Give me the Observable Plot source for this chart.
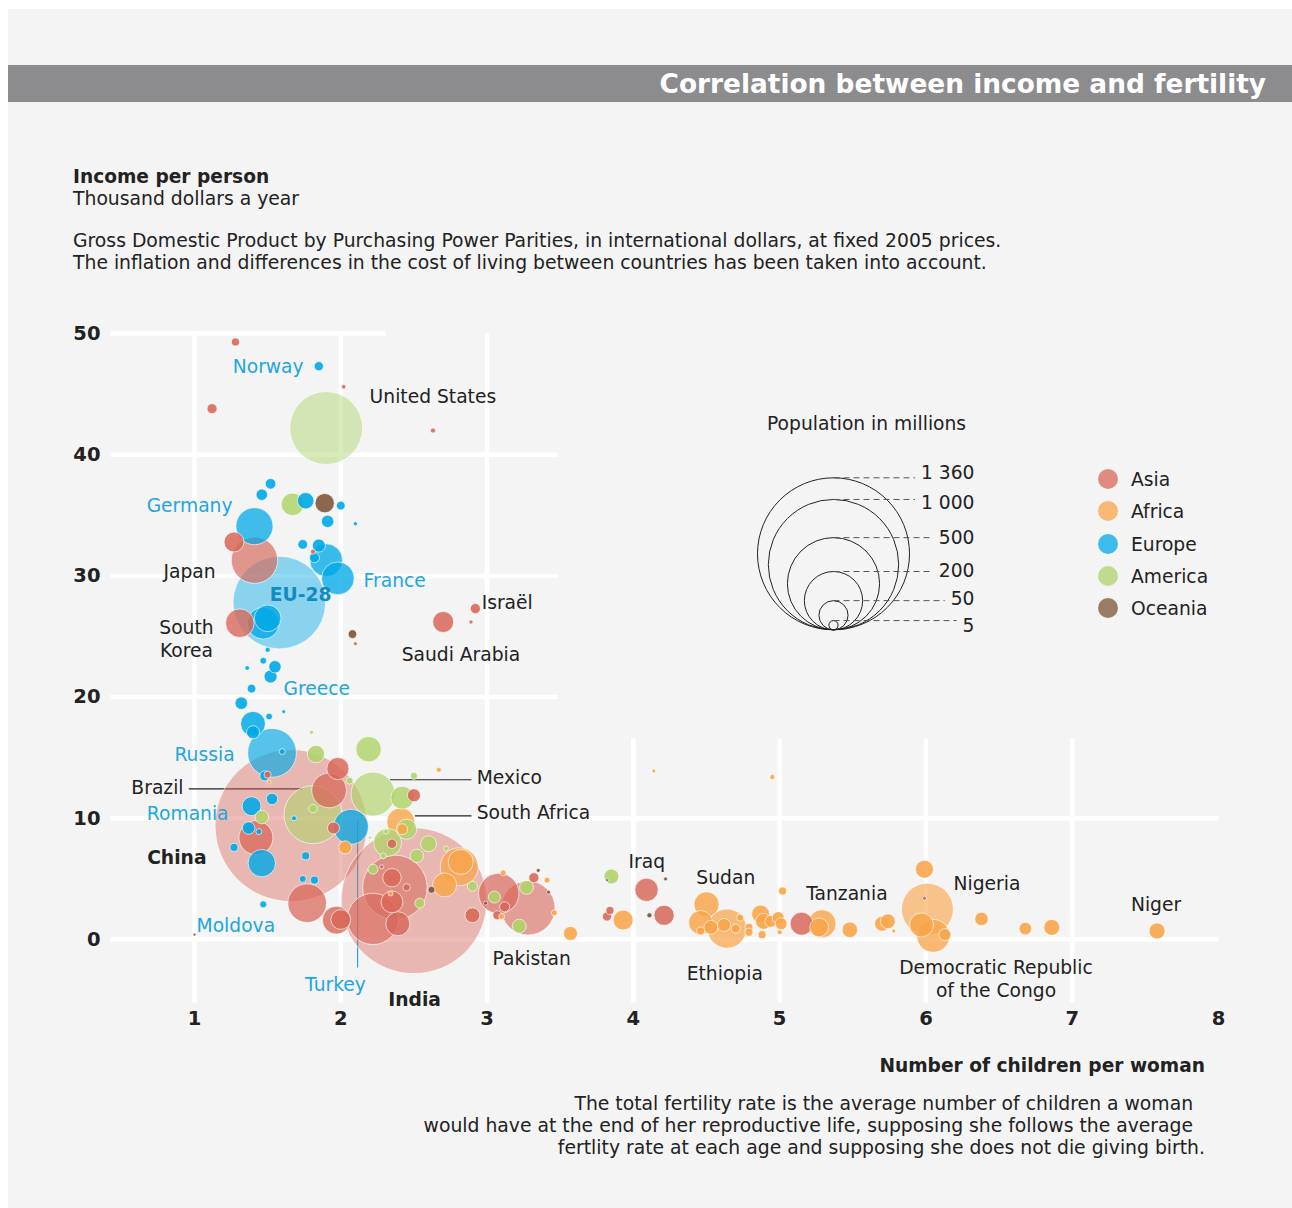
<!DOCTYPE html>
<html><head><meta charset="utf-8">
<script src="https://cdn.jsdelivr.net/npm/d3@7"></script>
<script src="https://cdn.jsdelivr.net/npm/@observablehq/plot@0.6"></script>
<style>
body{margin:0;background:#fff;font-family:"DejaVu Sans",Verdana,sans-serif;color:#222;}
#page{position:relative;width:1292px;height:1208px;overflow:hidden;}
#panel{position:absolute;left:8px;top:9px;width:1284px;height:1199px;background:#f4f4f4;}
#bar{position:absolute;left:8px;top:65px;width:1284px;height:37px;background:#8c8c8e;}
#title{position:absolute;right:26px;top:65px;line-height:37px;font-size:26.4px;font-weight:bold;color:#fff;white-space:nowrap;}
.t{position:absolute;font-size:18.8px;line-height:22px;white-space:pre;}
.b{font-weight:bold;}
#main{position:absolute;left:0;top:300px;}
#sizeLeg{position:absolute;left:740px;top:440px;}
.sw{position:absolute;width:20px;height:20px;border-radius:50%;}
</style></head>
<body><div id="page">
<div id="panel"></div>
<div id="bar"></div>
<div id="title">Correlation between income and fertility</div>
<div class="t b" style="left:73px;top:166px;font-size:18.6px;">Income per person</div>
<div class="t" style="left:73px;top:188px;">Thousand dollars a year</div>
<div class="t" style="left:73px;top:230px;">Gross Domestic Product by Purchasing Power Parities, in international dollars, at fixed 2005 prices.
The inflation and differences in the cost of living between countries has been taken into account.</div>
<div class="t" style="left:767px;top:413px;font-size:18.7px;">Population in millions</div>
<div id="colLeg"></div>
<div class="t b" style="right:87px;top:1055px;font-size:18.6px;">Number of children per woman</div>
<div class="t" style="right:87px;top:1093px;text-align:right;">The total fertility rate is the average number of children a woman  
would have at the end of her reproductive life, supposing she follows the average  
fertlity rate at each age and supposing she does not die giving birth.</div>
<div id="main"></div>
<div id="sizeLeg"></div>
</div>
<script>
// ---------- data: [children per woman, income (k$), population (millions)] ----------
const asia = [
[1.28,49.3,3.8],[2.02,45.6,1.2],[1.12,43.8,5.9],[2.63,42.0,1.5],[1.27,32.8,23.5],[1.41,31.3,127],
[1.81,32.0,1.5],[1.31,26.1,48],[2.10,24.4,0.9],[2.70,26.2,26],[2.92,27.3,6],[2.89,26.2,1],
[1.98,14.1,29],[1.92,12.3,71],[2.50,11.9,10],[1.95,9.2,8.5],[1.42,8.4,68],[1.66,9.4,1360],
[2.35,7.9,5.2],[1.77,3.0,88],[1.97,1.6,46],[2.00,1.65,23],[2.50,3.2,1250],[2.37,4.3,245],
[2.35,5.1,20],[2.35,3.1,28],[2.45,4.3,3.2],[2.22,1.7,155],[2.39,1.3,34],[2.28,6.0,1],
[2.90,2.0,13],[3.08,3.8,96],[3.12,2.7,6],[3.07,2.0,4.8],[3.28,2.6,172],[3.32,5.1,6],
[3.84,2.4,3.8],[3.82,1.9,4.8],[4.09,4.1,32],[4.21,2.0,24],[5.15,1.3,31],[5.99,3.4,1],[1.50,13.6,3]
];
const europe = [
[1.85,47.3,5],[1.52,37.6,6.6],[1.46,36.7,7.7],[1.76,36.2,16],[2.00,35.8,4.5],[1.91,34.5,9],
[2.10,34.3,1],[1.41,34.1,81],[1.74,32.6,5.6],[1.85,32.5,10],[1.82,31.5,5.8],[1.90,31.3,63],
[1.98,29.8,63],[1.58,27.8,505],[1.47,26.1,60],[1.50,26.5,42],[1.50,23.9,1.5],[1.47,23.0,2.6],
[1.55,22.5,9],[1.52,21.7,10],[1.36,22.4,1.3],[1.39,20.7,4.4],[1.32,19.5,9.3],[1.51,18.4,2.6],
[1.61,18.8,0.9],[1.40,17.8,36],[1.40,17.1,10],[1.53,15.4,140],[1.60,15.5,2.1],[1.48,13.5,5.9],
[1.39,11.0,21],[1.53,11.6,7.7],[1.68,10.0,1.5],[1.37,9.2,9.3],[1.44,8.9,2.1],[2.07,9.3,72],
[1.46,6.3,44],[1.27,7.6,3.8],[1.76,6.9,3.8],[1.74,5.0,2.9],[1.82,4.9,3.8],[1.47,2.9,2.9]
];
const america = [
[1.90,42.2,314],[1.67,35.9,30],[1.80,17.1,0.9],[1.83,15.3,17.8],[2.19,15.7,38],[2.06,13.1,2.9],
[1.81,10.3,198],[1.81,10.8,4.4],[2.22,12.0,114],[2.42,11.7,31],[2.50,13.5,2.9],[2.45,9.1,24],
[1.46,10.1,10.6],[2.31,8.9,1.5],[2.20,8.4,0.5],[2.32,8.0,46],[2.22,5.8,5.9],[2.29,6.9,2.1],
[2.54,3.0,5.9],[2.60,7.9,15],[2.52,6.9,10.6],[2.72,7.5,1.5],[2.90,4.4,5.9],[3.05,3.5,8.5],
[3.27,4.3,11.5],[3.22,1.1,11.5],[3.85,5.2,13]
];
const africa = [
[2.67,14.0,1.5],[4.14,13.9,0.9],[4.95,13.4,1.5],[1.51,13.0,0.9],[2.41,9.7,46],[2.42,9.1,7],
[2.03,7.6,10],[2.34,3.8,1.5],[2.81,6.0,85],[2.82,6.4,37],[2.71,4.5,34],[3.11,5.5,2.1],
[3.41,4.9,2.1],[3.46,2.2,2.1],[3.10,1.9,2.1],[3.57,0.5,11.5],[3.93,1.6,23.6],[4.50,2.9,37],
[4.64,0.9,90],[4.46,1.4,34],[4.62,1.2,10],[4.70,0.9,4.8],[4.73,1.8,2.9],[4.46,0.7,3.8],
[4.53,1.0,11.5],[4.87,2.1,19],[4.89,1.5,15],[4.79,1.0,3.8],[4.79,0.6,3.8],[4.88,0.4,3.8],
[4.94,1.5,8.5],[4.99,1.8,8.5],[5.01,1.3,8.5],[5.00,0.6,1.5],[5.02,4.0,3.8],[5.29,1.3,46],
[5.27,1.0,21],[5.48,0.8,14],[5.70,1.3,13],[5.74,1.5,13],[5.78,0.7,0.9],[5.99,5.8,19],
[6.01,2.5,159],[5.97,1.2,34],[6.05,0.3,64],[6.13,0.4,8.5],[6.38,1.7,10.6],[6.68,0.9,9.3],
[6.86,1.0,15],[7.58,0.7,15]
];
const oceania = [
[1.89,36.0,22],[2.08,25.2,4.4],[1.00,0.4,0.5],[2.62,4.1,2.9],[3.35,5.7,0.9],[3.42,3.9,0.9],
[2.99,3.0,0.9],[3.82,4.9,0.5],[4.22,5.0,0.9],[4.11,2.0,1.5]
];
const continents = ["Asia","Africa","Europe","America","Oceania"];
const xTicks = [1,2,3,4,5,6,7,8];
const yTicks = [0,10,20,30,40,50];
const sizeValues = [1360,1000,500,200,50,5];
const sizeLabels = ["1 360","1 000","500","200","50","5"];
const sizeLabelShift = [-5,4,0,0,-2,5];

// labels: text, x (children), y (income), anchor, kind
const labelText = ["Norway","United States","Germany","Japan","France","EU-28","South\nKorea","Israël","Saudi Arabia","Greece","Russia","Brazil","Mexico","South Africa","Romania","China","Moldova","Turkey","India","Pakistan","Iraq","Sudan","Ethiopia","Tanzania","Nigeria","Democratic Republic\nof the Congo","Niger"];
const labelX = [1.746,2.197,1.26,1.144,2.156,1.725,0.945,2.963,2.416,1.609,1.274,0.925,2.929,2.929,1.233,1.082,1.014,1.964,2.505,3.305,4.092,4.632,4.625,5.46,6.417,6.479,7.573];
const labelY = [47.36,44.88,35.9,30.45,29.7,28.55,24.9,27.9,23.6,20.8,15.35,12.6,13.4,10.56,10.48,6.85,1.24,-3.63,-4.87,-1.49,6.52,5.2,-2.72,3.88,4.7,-3.2,2.97];
const labelAnchor = ["end","start","end","end","start","middle","middle","start","start","start","end","end","start","start","end","end","start","middle","middle","middle","middle","middle","middle","middle","middle","middle","middle"];
const labelKind = ["eu","plain","eu","plain","eu","euBold","plain","plain","plain","eu","eu","plain","plain","plain","eu","bold","eu","eu","bold","plain","plain","plain","plain","plain","plain","plain","plain"];

// leader lines [x1,y1,x2,y2,kind]
const leaders = [[0.961,12.43,1.739,12.43,"plain"],[2.336,13.18,2.893,13.18,"plain"],[2.507,10.2,2.893,10.2,"plain"],[2.115,9.8,2.115,-2.3,"eu"]];
// grid segments
const gridH = [[50,0.425,2.306],[40,0.425,3.483],[30,0.425,3.483],[20,0.425,3.483],[10,0.425,8],[0,0.425,8]];
const gridV = [[1,-5.2,50],[2,-5.2,50],[3,-5.2,50],[4,-5.2,16.6],[5,-5.2,16.6],[6,-5.2,16.6],[7,-5.2,16.6]];

// ---------- styling ----------
const FONT = "'DejaVu Sans', Verdana, sans-serif";
const LABEL_SIZE = 18.7;
const colorOf = {Asia:"#d8685a",Africa:"#f8a54a",Europe:"#00a8e6",America:"#b0d36c",Oceania:"#7b5435"};
const textColor = {plain:"#222",bold:"#222",eu:"#1ea6de",euBold:"#0f8cc4"};
const rScale = {type:"sqrt", domain:[0,1360], range:[0,76]};
const rs = Plot.scale({r: rScale});
const opac = p => { const r = rs.apply(p); return 0.9 - 0.46*Math.max(0, Math.min(1, (r-8)/30)); };

const rows = [];
[[asia,"Asia"],[africa,"Africa"],[europe,"Europe"],[america,"America"],[oceania,"Oceania"]]
  .forEach(([arr,c]) => arr.forEach(([f,i,p]) => rows.push({fert:f, inc:i, pop:p, cont:c})));
const labels = labelText.map((t,k) => ({text:t, x:labelX[k], y:labelY[k], anchor:labelAnchor[k], kind:labelKind[k]}));

const labelMarks = [];
for (const anchor of ["start","middle","end"]) {
  for (const w of ["normal","bold"]) {
    const sub = labels.filter(d => d.anchor === anchor && ((d.kind === "bold" || d.kind === "euBold") === (w === "bold")));
    if (sub.length) labelMarks.push(Plot.text(sub, {x:"x", y:"y", text:"text", textAnchor:anchor, fontWeight:w, fontSize:LABEL_SIZE, lineHeight:1.23, fill: d => textColor[d.kind]}));
  }
}

const main = Plot.plot({
  width:1292, height:740,
  marginLeft:194, marginRight:74, marginTop:33, marginBottom:101,
  x:{domain:[1,8], axis:null},
  y:{domain:[0,50], axis:null},
  r: rScale,
  color:{type:"identity"},
  opacity:{type:"identity"},
  style:{background:"transparent", fontFamily:FONT, overflow:"visible"},
  marks:[
    Plot.link(gridH, {x1:d=>d[1], x2:d=>d[2], y1:d=>d[0], y2:d=>d[0], stroke:"white", strokeWidth:4.5}),
    Plot.link(gridV, {x1:d=>d[0], x2:d=>d[0], y1:d=>d[1], y2:d=>d[2], stroke:"white", strokeWidth:4.5}),
    Plot.text(xTicks, {x:d=>d, frameAnchor:"bottom", dy:85, text:d=>String(d), fontWeight:"bold", fontSize:19.5, fill:"#222"}),
    Plot.text(yTicks, {y:d=>d, frameAnchor:"left", dx:-94, textAnchor:"end", text:d=>String(d), fontWeight:"bold", fontSize:19.5, fill:"#222"}),
    Plot.link(leaders, {x1:d=>d[0], y1:d=>d[1], x2:d=>d[2], y2:d=>d[3], stroke:d=>d[4]==="eu"?"#1ea6de":"#222", strokeWidth:1.2}),
    Plot.dot(rows, {x:"fert", y:"inc", r:"pop", fill:d=>colorOf[d.cont], fillOpacity:d=>opac(d.pop), stroke:"white", strokeWidth:0.8, strokeOpacity:0.8}),
    ...labelMarks
  ]
});
document.getElementById("main").appendChild(main);

// size legend
const ctx = document.createElement("canvas").getContext("2d");
ctx.font = LABEL_SIZE + "px " + FONT;
const cx = 93, bottom = 189.3, labelRight = 234;
const sizeRows = sizeValues.map((v,k) => {
  const r = rs.apply(v);
  return {v, r, label: sizeLabels[k], lineY: bottom - 2*r, textY: bottom - 2*r + sizeLabelShift[k],
          lineEnd: labelRight - ctx.measureText(sizeLabels[k]).width - 6};
});
const sizeLeg = Plot.plot({
  width:260, height:200, margin:0,
  x:{type:"identity", axis:null}, y:{type:"identity", axis:null},
  r: rScale,
  style:{background:"transparent", fontFamily:FONT, overflow:"visible"},
  marks:[
    Plot.dot(sizeRows, {x:()=>cx, y:d=>bottom-d.r, r:"v", fill:"none", stroke:"#222", strokeWidth:1}),
    Plot.link(sizeRows, {x1:()=>cx, x2:"lineEnd", y1:"lineY", y2:"lineY", stroke:"#555", strokeDasharray:"6,4", strokeWidth:1}),
    Plot.text(sizeRows, {x:()=>labelRight, y:"textY", text:"label", textAnchor:"end", fontSize:LABEL_SIZE, fill:"#222"})
  ]
});
document.getElementById("sizeLeg").appendChild(sizeLeg);

// colour legend
const leg = document.getElementById("colLeg");
continents.forEach((c,k) => {
  const yc = 479 + k*32.3;
  const s = document.createElement("div");
  s.className = "sw"; s.style.left = "1098px"; s.style.top = (yc-10)+"px";
  s.style.background = colorOf[c]; s.style.opacity = 0.75;
  leg.appendChild(s);
  const t = document.createElement("div");
  t.className = "t"; t.style.left = "1131px"; t.style.top = (yc-10)+"px"; t.style.fontSize = LABEL_SIZE + "px";
  t.textContent = c;
  leg.appendChild(t);
});
</script>
</body></html>
